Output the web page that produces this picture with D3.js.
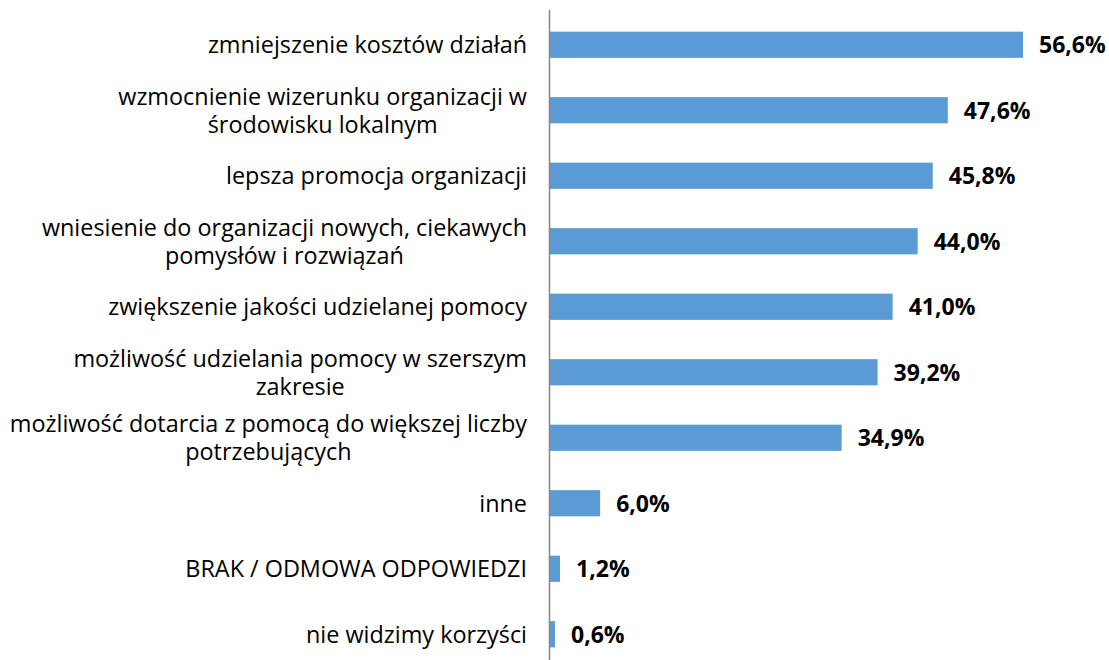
<!DOCTYPE html>
<html>
<head>
<meta charset="utf-8">
<script src="https://cdn.jsdelivr.net/npm/d3@7"></script>
<style>
  html, body { margin: 0; padding: 0; background: #ffffff; }
  svg { display: block; }
</style>
</head>
<body>
<svg id="chart" width="1109" height="660"></svg>
<script>
// Categories (line breaks where the label wraps) and shares in percent
const categories = [
  "zmniejszenie kosztów działań",
  "wzmocnienie wizerunku organizacji w\nśrodowisku lokalnym",
  "lepsza promocja organizacji",
  "wniesienie do organizacji nowych, ciekawych\npomysłów i rozwiązań",
  "zwiększenie jakości udzielanej pomocy",
  "możliwość udzielania pomocy w szerszym\nzakresie",
  "możliwość dotarcia z pomocą do większej liczby\npotrzebujących",
  "inne",
  "BRAK / ODMOWA ODPOWIEDZI",
  "nie widzimy korzyści"
];
const values = [56.6, 47.6, 45.8, 44.0, 41.0, 39.2, 34.9, 6.0, 1.2, 0.6];
const valueLabels = ["56,6%", "47,6%", "45,8%", "44,0%", "41,0%", "39,2%", "34,9%", "6,0%", "1,2%", "0,6%"];

const svg = d3.select("#chart");
const FONT = "'Open Sans', Lato, 'Liberation Sans', sans-serif";

const x0 = 550;
const x = d3.scaleLinear().domain([0, 56.6]).range([x0, 1023]);
const y = d3.scaleBand().domain(categories).range([12, 667]).paddingInner(0.6).paddingOuter(0.3);

// bars
svg.append("g").selectAll("rect")
  .data(values)
  .join("rect")
  .attr("x", x0)
  .attr("y", (d, i) => y(categories[i]))
  .attr("width", d => x(d) - x0)
  .attr("height", y.bandwidth())
  .attr("fill", "#5B9BD5");

// value labels
svg.append("g").selectAll("text")
  .data(values)
  .join("text")
  .attr("x", d => x(d) + 16)
  .attr("y", (d, i) => y(categories[i]) + y.bandwidth() / 2)
  .attr("dy", "0.36em")
  .attr("font-family", FONT)
  .attr("font-weight", "bold")
  .attr("font-size", 23)
  .attr("fill", "#000")
  .text((d, i) => valueLabels[i]);

// vertical category axis
svg.append("line")
  .attr("x1", 549.5).attr("x2", 549.5)
  .attr("y1", 10).attr("y2", 660)
  .attr("stroke", "#868686")
  .attr("stroke-width", 1.5);

// category labels: block right-aligned to the axis, lines centred within the block
const lineH = 28;
const labelG = svg.append("g")
  .attr("font-family", FONT)
  .attr("font-size", 23.4)
  .attr("fill", "#000");

categories.forEach((c, i) => {
  const lines = c.split("\n");
  const cy = y(c) + y.bandwidth() / 2;
  const g = labelG.append("g");
  const texts = lines.map((ln, k) => g.append("text")
    .attr("y", cy + (k - (lines.length - 1) / 2) * lineH)
    .attr("dy", "0.36em")
    .text(ln));
  const widths = texts.map(t => t.node().getComputedTextLength());
  const w = Math.max(...widths);
  const right = 527;
  texts.forEach(t => t.attr("x", right - w / 2).attr("text-anchor", "middle"));
});
</script>
</body>
</html>
